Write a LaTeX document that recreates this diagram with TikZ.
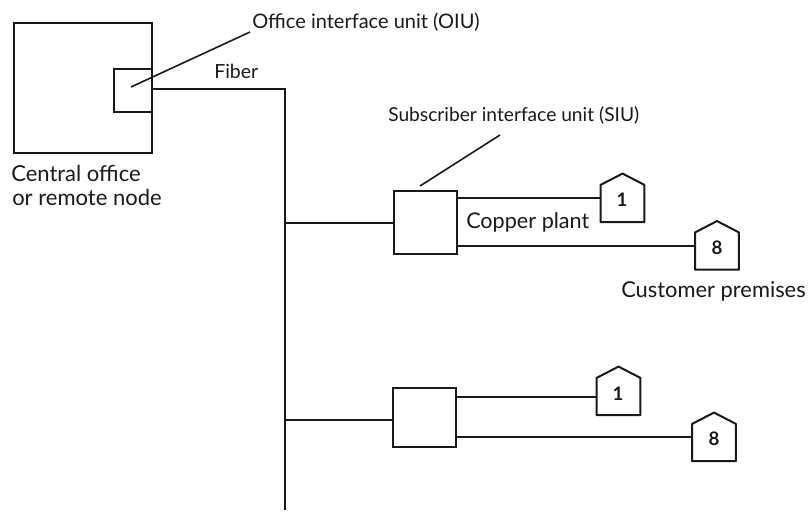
\documentclass[tikz,border=0pt]{standalone}
\usepackage{fontspec}
\setmainfont{Lato}
\tikzset{
  x=0.75pt,y=-0.75pt,
  ln/.style={draw=black!90,line width=1.5pt,line join=miter},
  thin ln/.style={draw=black!90,line width=1.2pt},
  unitbox/.style={draw=black!90,line width=1.4pt,rectangle,inner sep=0pt,anchor=north west},
  lab/.style={inner sep=0pt,anchor=base west,text=black!90},
  sz/.style={font=\fontsize{#1}{#1}\selectfont},
  num/.style={inner sep=0pt,font=\fontsize{14}{16}\selectfont\bfseries,text=black!90},
  housebody/.style={rectangle,inner sep=0pt,minimum width=32.5pt,minimum height=27.5pt},
  houseline/.style={draw=black!90,line width=1.5pt,line join=round},
}
\newcommand{\housetop}[1]{%
  \draw[houseline] (#1.north west) -- ([yshift=8.5pt]#1.north) -- (#1.north east) -- (#1.south east) -- (#1.south west) -- cycle;}
\begin{document}
\begin{tikzpicture}
\useasboundingbox (0,0) rectangle (809,512);
% central office
\node[unitbox,minimum width=103.5pt,minimum height=97.5pt] (co) at (13,22) {};
\node[unitbox,minimum width=28.5pt,minimum height=32pt] (oiu) at (113,68) {};
\coordinate (oiuin) at (131,87);
\coordinate (oiutxt) at (250,32);
\draw[thin ln] (oiuin) -- (oiutxt);
\node[lab,sz=15] (oiulab) at (252,28) {Office interface unit (OIU)};
\node[lab,sz=14.6] (fiberlab) at (214,78) {Fiber};
\node[lab,sz=16.5] (colab1) at (11,181) {Central office};
\node[lab,sz=16.5] (colab2) at (12,205) {or remote node};
% fiber trunk
\coordinate (cornerA) at (285,89);
\coordinate (trunkend) at (285,510);
\coordinate (coport) at (152,89);
\draw[ln] (coport) -- (cornerA) -- (trunkend);
% SIU 1
\node[unitbox,minimum width=47.5pt,minimum height=47pt] (siuA) at (393,190) {};
\coordinate (tapA) at (285,223);
\draw[thin ln] (tapA) -- (tapA -| siuA.west);
\coordinate (siuAin) at (420,186);
\coordinate (siuAtxt) at (500,135);
\draw[thin ln] (siuAin) -- (siuAtxt);
\node[lab,sz=14.4] (siulab) at (388,121) {Subscriber interface unit (SIU)};
\node[housebody] (hA) at (622.5,203.5) {};
\housetop{hA}
\node[num] (hAn) at (622,200) {1};
\node[housebody] (hB) at (717,251) {};
\housetop{hB}
\node[num] (hBn) at (717,248) {8};
\coordinate (a1) at (457,198);
\coordinate (a2) at (457,246);
\draw[ln] (a1) -- (a1 -| hA.west);
\draw[ln] (a2) -- (a2 -| hB.west);
\node[lab,sz=16.2] (cplab) at (466,228) {Copper plant};
\node[lab,sz=16.4] (cuslab) at (621,297) {Customer premises};
% SIU 2
\node[unitbox,minimum width=47.5pt,minimum height=44.5pt] (siuB) at (392,387) {};
\coordinate (tapB) at (285,420);
\draw[thin ln] (tapB) -- (tapB -| siuB.west);
\node[housebody] (hC) at (618.5,396.5) {};
\housetop{hC}
\node[num] (hCn) at (618,394) {1};
\node[housebody] (hD) at (714,442.5) {};
\housetop{hD}
\node[num] (hDn) at (714,439) {8};
\coordinate (b1) at (456,397);
\coordinate (b2) at (456,437);
\draw[ln] (b1) -- (b1 -| hC.west);
\draw[ln] (b2) -- (b2 -| hD.west);
\end{tikzpicture}
\end{document}
